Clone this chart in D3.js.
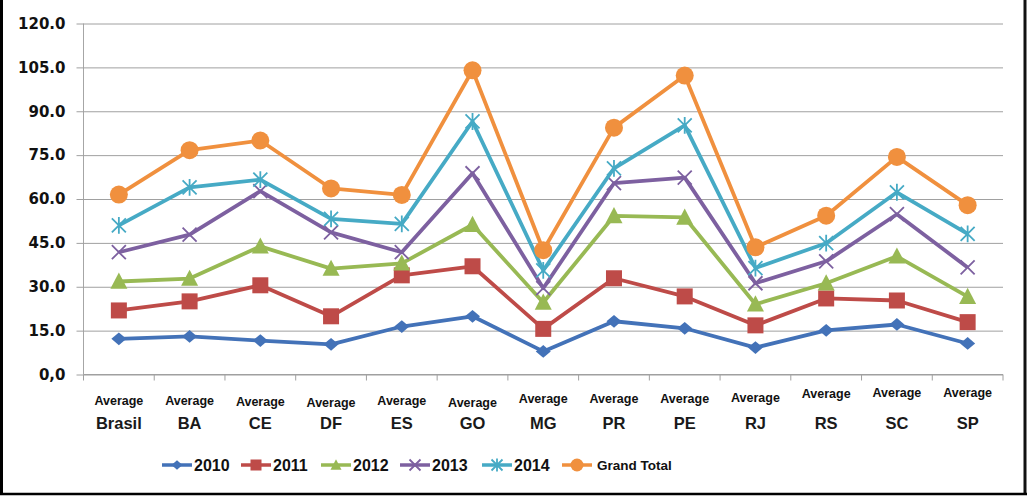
<!DOCTYPE html>
<html>
<head>
<meta charset="utf-8">
<script src="https://cdn.jsdelivr.net/npm/d3@7"></script>
<style>
    body { margin: 0; background: #fff; }
    svg { display: block; }
</style>
</head>
<body>
<svg id="chart" width="1027" height="496"></svg>
<script>
//Average per state and year
var states = ["Brasil", "BA", "CE", "DF", "ES", "GO", "MG", "PR", "PE", "RJ", "RS", "SC", "SP"];
var seriesNames = ["2010", "2011", "2012", "2013", "2014", "Grand Total"];
var values2010 = [12.2, 13.0, 11.6, 10.3, 16.4, 19.9, 7.9, 18.2, 15.8, 9.2, 15.1, 17.1, 10.6];
var values2011 = [21.9, 25.0, 30.5, 19.9, 33.9, 37.0, 15.6, 32.9, 26.7, 16.8, 26.0, 25.3, 17.9];
var values2012 = [31.8, 32.8, 43.8, 36.2, 38.0, 51.2, 24.6, 54.2, 53.7, 24.0, 31.2, 40.4, 26.6];
var values2013 = [41.8, 47.8, 62.7, 48.6, 41.8, 68.8, 29.5, 65.4, 67.3, 31.2, 38.7, 54.8, 36.6];
var values2014 = [51.0, 64.0, 66.6, 53.2, 51.5, 86.5, 35.6, 70.5, 85.2, 36.4, 44.9, 62.3, 48.1];
var valuesTotal = [61.5, 76.7, 80.0, 63.6, 61.4, 104.0, 42.5, 84.4, 102.2, 43.5, 54.3, 74.4, 57.9];
var yTicks = [0, 15, 30, 45, 60, 75, 90, 105, 120];

var allValues = [values2010, values2011, values2012, values2013, values2014, valuesTotal];
var colors = ["#4372b8", "#be4b48", "#98b954", "#7d60a0", "#46aac5", "#f0903e"];
var symbols = ["diamond", "square", "triangle", "cross", "asterisk", "circle"];

var svg = d3.select("#chart");

var plotLeft = 83.5;
var plotRight = 1003;
var plotTop = 23.5;
var plotBottom = 374.5;

var xScale = d3.scaleBand()
    .domain(states)
    .range([plotLeft, plotRight]);
var yScale = d3.scaleLinear()
    .domain([0, 120])
    .range([plotBottom, plotTop]);

//FRAME
svg.append("line").attr("x1", 1.5).attr("y1", 0).attr("x2", 1.5).attr("y2", 494)
    .attr("stroke", "#000").attr("stroke-width", 3);
svg.append("line").attr("x1", 1025).attr("y1", 0).attr("x2", 1025).attr("y2", 494)
    .attr("stroke", "#111").attr("stroke-width", 3);
svg.append("line").attr("x1", 0).attr("y1", 494).attr("x2", 1027).attr("y2", 494)
    .attr("stroke", "#000").attr("stroke-width", 2.5);

//GRID + Y AXIS
var yAxis = d3.axisLeft(yScale)
    .tickValues(yTicks)
    .tickSize(-(plotRight - plotLeft))
    .tickPadding(18)
    .tickFormat(function (d) { return d === 0 ? "0,0" : d3.format(".1f")(d); });

var gy = svg.append("g")
    .attr("transform", "translate(" + plotLeft + ",0)")
    .call(yAxis);
gy.select(".domain").attr("stroke", "#a6a6a6").attr("d", "M0," + plotTop + "V" + plotBottom);
gy.selectAll(".tick line")
    .attr("stroke", "#a0a0a0")
    .attr("x1", -7);
gy.selectAll(".tick text")
    .attr("fill", "#111")
    .style("font-family", "DejaVu Sans")
    .style("font-weight", "bold")
    .style("font-size", "15px");

//X AXIS
var gx = svg.append("g")
    .attr("transform", "translate(0," + plotBottom + ")");
gx.append("line")
    .attr("x1", plotLeft).attr("x2", plotRight)
    .attr("stroke", "#a0a0a0");
gx.selectAll(".xtick")
    .data(states.concat(["_end"]))
    .enter().append("line")
    .attr("class", "xtick")
    .attr("x1", function (d, i) { return i < states.length ? xScale(d) : plotRight; })
    .attr("x2", function (d, i) { return i < states.length ? xScale(d) : plotRight; })
    .attr("y1", 0).attr("y2", 6)
    .attr("stroke", "#a0a0a0");

var avgOffset = [2, 2, 3, 4, 2, 4, 0, 0, 0, -1, -5, -6, -6];
svg.selectAll(".avg-label")
    .data(states)
    .enter().append("text")
    .attr("class", "avg-label")
    .attr("x", function (d) { return xScale(d) + xScale.bandwidth() / 2; })
    .attr("y", function (d, i) { return 403 + avgOffset[i]; })
    .attr("text-anchor", "middle")
    .style("font-family", "Liberation Sans, Arial")
    .style("font-weight", "bold")
    .style("font-size", "12.5px")
    .attr("fill", "#111")
    .text("Average");
svg.selectAll(".state-label")
    .data(states)
    .enter().append("text")
    .attr("class", "state-label")
    .attr("x", function (d) { return xScale(d) + xScale.bandwidth() / 2; })
    .attr("y", 429)
    .attr("text-anchor", "middle")
    .style("font-family", "Liberation Sans, Arial")
    .style("font-weight", "bold")
    .style("font-size", "16.5px")
    .attr("fill", "#1a1a1a")
    .text(function (d) { return d; });

//MARKERS
function drawMarker(g, type, color, size) {
    var s = size;
    if (type === "diamond") {
        g.append("path").attr("d", "M0," + (-s * 0.85) + "L" + s + ",0L0," + (s * 0.85) + "L" + (-s) + ",0Z").attr("fill", color);
    } else if (type === "square") {
        g.append("rect").attr("x", -s).attr("y", -s).attr("width", 2 * s).attr("height", 2 * s).attr("fill", color);
    } else if (type === "triangle") {
        g.append("path").attr("d", "M0," + (-s * 1.05) + "L" + s + "," + (s * 0.85) + "L" + (-s) + "," + (s * 0.85) + "Z").attr("fill", color);
    } else if (type === "cross") {
        g.append("path").attr("d", "M" + (-s) + "," + (-s) + "L" + s + "," + s + "M" + s + "," + (-s) + "L" + (-s) + "," + s)
            .attr("stroke", color).attr("stroke-width", 1.8).attr("fill", "none");
    } else if (type === "asterisk") {
        g.append("path").attr("d", "M" + (-s) + "," + (-s) + "L" + s + "," + s + "M" + s + "," + (-s) + "L" + (-s) + "," + s + "M0," + (-s * 1.2) + "V" + (s * 1.2))
            .attr("stroke", color).attr("stroke-width", 1.8).attr("fill", "none");
    } else {
        g.append("circle").attr("r", s).attr("fill", color);
    }
}

var markerSizes = [7.5, 8, 8.5, 7, 7, 9];

//SERIES
var line = d3.line()
    .x(function (d, i) { return xScale(states[i]) + xScale.bandwidth() / 2; })
    .y(function (d) { return yScale(d); });

allValues.forEach(function (vals, k) {
    svg.append("path")
        .datum(vals)
        .attr("d", line)
        .attr("fill", "none")
        .attr("stroke", colors[k])
        .attr("stroke-width", 3.8)
        .attr("stroke-linejoin", "round");
    vals.forEach(function (v, i) {
        var g = svg.append("g")
            .attr("transform", "translate(" + (xScale(states[i]) + xScale.bandwidth() / 2) + "," + yScale(v) + ")");
        drawMarker(g, symbols[k], colors[k], markerSizes[k]);
    });
});

//LEGEND
var legendX = [162, 241, 321, 400, 482, 562];
var legend = svg.append("g").attr("transform", "translate(0,465)");
seriesNames.forEach(function (name, k) {
    var item = legend.append("g").attr("transform", "translate(" + legendX[k] + ",0)");
    item.append("line")
        .attr("x1", 0).attr("x2", 30)
        .attr("stroke", colors[k]).attr("stroke-width", 3.5);
    var m = item.append("g").attr("transform", "translate(15,0)");
    drawMarker(m, symbols[k], colors[k], k === 5 ? 6.5 : 5.5);
    item.append("text")
        .attr("x", k === 5 ? 35 : 32)
        .attr("y", 0)
        .attr("dy", "0.35em")
        .style("font-family", "Liberation Sans, Arial")
        .style("font-weight", "bold")
        .style("font-size", k === 5 ? "13.5px" : "16px")
        .attr("fill", "#111")
        .text(name);
});
</script>
</body>
</html>
